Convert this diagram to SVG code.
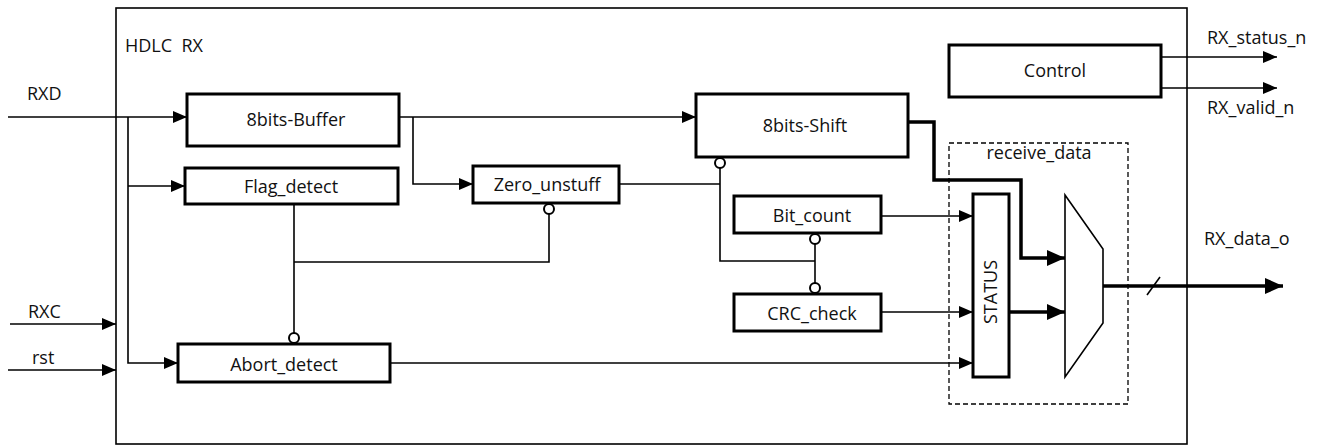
<svg xmlns="http://www.w3.org/2000/svg" width="1329" height="446" viewBox="0 0 1329 446">
<style>
text{font-family:"Open Sans","Liberation Sans",sans-serif;font-size:18px;fill:#111}
.box{fill:#fff;stroke:#000;stroke-width:3}
.w{fill:none;stroke:#000;stroke-width:1.6}
.bus{fill:none;stroke:#000;stroke-width:3.5}
.inv{fill:#fff;stroke:#000;stroke-width:2}
.c{text-anchor:middle}
</style>
<defs>
<marker id="a" markerUnits="userSpaceOnUse" markerWidth="14" markerHeight="12" refX="14" refY="6" orient="auto"><path d="M0,0L14,6L0,12z" fill="#000"/></marker>
<marker id="b" markerUnits="userSpaceOnUse" markerWidth="18" markerHeight="16" refX="18" refY="8" orient="auto"><path d="M0,0L18,8L0,16z" fill="#000"/></marker>
</defs>
<rect id="hdlc" x="116" y="8" width="1071" height="436" fill="none" stroke="#000" stroke-width="1.6"/>
<text x="125" y="52" font-size="20" xml:space="preserve">HDLC  RX</text>
<g id="labels">
<text x="27" y="100">RXD</text>
<text x="28" y="318">RXC</text>
<text x="32" y="364">rst</text>
<text x="1207" y="44">RX_status_n</text>
<text x="1207" y="114">RX_valid_n</text>
<text x="1204" y="245">RX_data_o</text>
</g>
<g id="receive_data">
<rect x="949" y="143" width="179" height="261" fill="none" stroke="#000" stroke-width="1.3" stroke-dasharray="5,3"/>
<text class="c" x="1039" y="159">receive_data</text>
</g>
<g id="connectors">
<path class="w" d="M8,117H187" marker-end="url(#a)"/>
<path class="w" d="M128,117V363H178" marker-end="url(#a)"/>
<path class="w" d="M128,186H185" marker-end="url(#a)"/>
<path class="w" d="M10,324H116" marker-end="url(#a)"/>
<path class="w" d="M8,370H116" marker-end="url(#a)"/>
<path class="w" d="M399,117H696" marker-end="url(#a)"/>
<path class="w" d="M413,117V184H473" marker-end="url(#a)"/>
<path class="w" d="M619,184H720"/>
<path class="w" d="M294,204V333"/>
<path class="w" d="M294,262H549V214"/>
<path class="w" d="M720,168V261H815"/>
<path class="w" d="M815,244V283"/>
<path class="w" d="M881,216H973" marker-end="url(#a)"/>
<path class="w" d="M881,312H973" marker-end="url(#a)"/>
<path class="w" d="M390,363H973" marker-end="url(#a)"/>
<path class="w" d="M1161,57H1277" marker-end="url(#a)"/>
<path class="w" d="M1161,88H1277" marker-end="url(#a)"/>
<path class="bus" d="M908,122H934V180H1021V258H1065" marker-end="url(#b)"/>
<path class="bus" d="M1009,312H1065" marker-end="url(#b)"/>
<path class="bus" d="M1103,286H1283" marker-end="url(#b)"/>
<path class="w" d="M1147,295L1160,277"/>
<circle class="inv" cx="294" cy="338" r="5"/>
<circle class="inv" cx="549" cy="209" r="5"/>
<circle class="inv" cx="720" cy="163" r="5"/>
<circle class="inv" cx="815" cy="239" r="5"/>
<circle class="inv" cx="815" cy="288" r="5"/>
</g>
<g id="buffer"><rect class="box" x="187" y="94" width="212" height="52"/><text class="c" x="296" y="126">8bits-Buffer</text></g>
<g id="flag"><rect class="box" x="185" y="168" width="213" height="36"/><text class="c" x="291" y="193">Flag_detect</text></g>
<g id="zero"><rect class="box" x="473" y="166" width="146" height="37"/><text class="c" x="547" y="191">Zero_unstuff</text></g>
<g id="shift"><rect class="box" x="696" y="94" width="212" height="63"/><text class="c" x="805" y="132">8bits-Shift</text></g>
<g id="bitcount"><rect class="box" x="734" y="196" width="147" height="37"/><text class="c" x="812" y="222">Bit_count</text></g>
<g id="crc"><rect class="box" x="734" y="294" width="147" height="37"/><text class="c" x="812" y="320">CRC_check</text></g>
<g id="abort"><rect class="box" x="178" y="344" width="212" height="38"/><text class="c" x="284" y="371">Abort_detect</text></g>
<g id="control"><rect class="box" x="949" y="45" width="212" height="52"/><text class="c" x="1055" y="77">Control</text></g>
<g id="status"><rect class="box" x="973" y="194" width="36" height="183"/><text class="c" transform="translate(997,292) rotate(-90)">STATUS</text></g>
<g id="mux"><path d="M1065,195L1103,249V323L1065,377Z" fill="#fff" stroke="#000" stroke-width="1.6"/></g>
</svg>
